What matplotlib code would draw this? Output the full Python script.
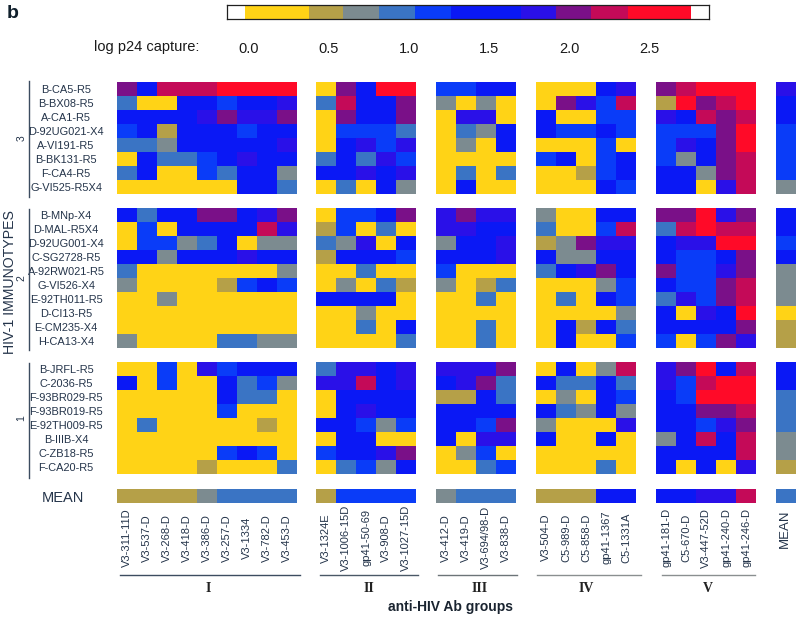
import matplotlib
matplotlib.use("Agg")
import matplotlib.pyplot as plt
from matplotlib.colors import ListedColormap
from matplotlib.lines import Line2D
import numpy as np

plt.rcParams['font.family'] = ['Liberation Sans', 'DejaVu Sans']

# capture classes, lowest to highest, one letter per cell in the tables below
LEVELS = "YOGSBDIPCR"
LEVEL_COLORS = ["#FFD316", "#B5A048", "#7C8B90", "#3A74C4", "#0A3CF8",
                "#0A18F5", "#2A10E8", "#7A1088", "#C40A58", "#FF0A28"]
LEVEL_EDGES = [-0.025, 0.375, 0.59, 0.81, 1.04, 1.26, 1.70, 1.92, 2.14, 2.37, 2.76]
SCALE_TICKS = [0.0, 0.5, 1.0, 1.5, 2.0, 2.5]

VIRUSES_3 = ["B-CA5-R5", "B-BX08-R5", "A-CA1-R5", "D-92UG021-X4",
             "A-VI191-R5", "B-BK131-R5", "F-CA4-R5", "G-VI525-R5X4"]
VIRUSES_2 = ["B-MNp-X4", "D-MAL-R5X4", "D-92UG001-X4", "C-SG2728-R5", "A-92RW021-R5",
             "G-VI526-X4", "E-92TH011-R5", "D-CI13-R5", "E-CM235-X4", "H-CA13-X4"]
VIRUSES_1 = ["B-JRFL-R5", "C-2036-R5", "F-93BR029-R5", "F-93BR019-R5",
             "E-92TH009-R5", "B-IIIB-X4", "C-ZB18-R5", "F-CA20-R5"]

ABS_I = ["V3-311-11D", "V3-537-D", "V3-268-D", "V3-418-D", "V3-386-D",
         "V3-257-D", "V3-1334", "V3-782-D", "V3-453-D"]
ABS_II = ["V3-1324E", "V3-1006-15D", "gp41-50-69", "V3-908-D", "V3-1027-15D"]
ABS_III = ["V3-412-D", "V3-419-D", "V3-694/98-D", "V3-838-D"]
ABS_IV = ["V3-504-D", "C5-989-D", "C5-858-D", "gp41-1367", "C5-1331A"]
ABS_V = ["gp41-181-D", "C5-670-D", "V3-447-52D", "gp41-240-D", "gp41-246-D"]

CELLS_I = [
    ["PDCCCRRRR", "SYYDDBDDI", "DDDDIPIIP", "BDODDDBDD",
     "SSGDDDDDI", "YDSSBDIDD", "SDYYBSDDG", "YYYYYYDDS"],
    ["DSDDPPDIP", "YBYDDDDCI", "YBBGSDYGG", "DDGDDDIDD", "SYYYYYYYG",
     "GYYYYOBDB", "YYGYYYYYY", "YYYYYYYYY", "YYYYYYYYY", "GYYYYSSGG"],
    ["YYBYIBDDD", "DYBYYDSBG", "YYYYYDSSY", "YYYYYBYYY",
     "YSYYYYYOY", "YYYYYYYYY", "YYYYYBDBY", "YYYYOYYYS"],
]
CELLS_II = [
    ["YPDRR", "SCDDP", "YPDDP", "YBBBS", "YDIBI", "SDSIB", "DDIDI", "YSYDG"],
    ["YBBDP", "OBYSY", "SGIYD", "ODDDB", "YYSYY",
     "YGYSO", "DDDDY", "YYGYY", "YYSYD", "YYYYS"],
    ["SIIDI", "IICDI", "YDDDD", "YDIDD", "DDBGB", "YDDYY", "BDDIP", "YSBGD"],
]
CELLS_III = [
    ["BBDD", "GYGY", "YIIY", "YSGD", "YGYD", "YYYY", "YSYS", "YDYY"],
    ["IPII", "IIDD", "GDDI", "DDDI", "BYYY", "GYOS", "YYSY", "YYYY", "YYSY", "YYSY"],
    ["IIIP", "DIPS", "OODS", "DDDD", "DDBP", "DYII", "YGBY", "YYSB"],
]
CELLS_IV = [
    ["YYYDI", "YPIBC", "DYYBB", "DBBDB", "YYYBY", "BDYBD", "YYOBD", "YYYDB"],
    ["GYYDD", "SYYBC", "OGPII", "DGGDD", "SDIPD",
     "YYYGB", "YSYDB", "YYYYG", "YDODS", "YDYYB"],
    ["YDYGC", "DSSDS", "YGYDB", "DSGDG", "GYYYI", "DYYDY", "YYYYY", "YYYSY"],
]
CELLS_V = [
    ["PCRRR", "ORPCR", "IDCPC", "BBBPR", "BIDPR", "BGDPC", "DDGPC", "DDYIC"],
    ["PPRIP", "SCRCC", "DIIRR", "DBBDP", "PBBIP",
     "DBBPC", "SIBPC", "DYIDR", "DDDDP", "BYBPI"],
    ["IPRDC", "IBCRR", "DBRRR", "DDPPC", "DDBIP", "GDCDC", "DDDDC", "DYDYI"],
]
CELLS_MEAN = [
    ["I", "D", "D", "B", "B", "B", "B", "G"],
    ["D", "D", "B", "D", "G", "G", "G", "Y", "O", "O"],
    ["D", "D", "S", "S", "S", "G", "G", "O"],
]
MEAN_I = "OOOOGSSSS"
MEAN_II = "OBBBB"
MEAN_III = "GSSS"
MEAN_IV = "OOODD"
MEAN_V = "DDIIC"
MEAN_MEAN = "S"

W, H = 800, 618
NAVY = "#24344a"
cmap = ListedColormap(LEVEL_COLORS)


def add_axes_px(fig, left, top, right, bottom):
    """Axes placed by pixel box, y counted from the top of the picture."""
    return fig.add_axes([left / W, 1 - bottom / H, (right - left) / W, (bottom - top) / H])


def draw_cells(ax, rows):
    codes = np.array([[LEVELS.index(c) for c in row] for row in rows])
    ax.imshow(codes, cmap=cmap, vmin=-0.5, vmax=len(LEVELS) - 0.5,
              aspect="auto", interpolation="nearest")
    ax.set_xticks([])
    ax.set_yticks([])
    for spine in ax.spines.values():
        spine.set_visible(False)


def fig_line(fig, x0, x1, y0, y1, color):
    fig.add_artist(Line2D([x0 / W, x1 / W], [1 - y0 / H, 1 - y1 / H],
                          transform=fig.transFigure, color=color, lw=1.0))


fig = plt.figure(figsize=(W / 100, H / 100), dpi=100)

# colour scale on top
cax = add_axes_px(fig, 227, 4.5, 709, 18.5)
cax.pcolormesh(LEVEL_EDGES, [0, 1], np.arange(len(LEVELS)).reshape(1, -1),
               cmap=cmap, vmin=-0.5, vmax=len(LEVELS) - 0.5)
cax.set_xlim(-0.1375, 2.875)
cax.set_yticks([])
cax.set_xticks(SCALE_TICKS)
cax.set_xticklabels(["%.1f" % t for t in SCALE_TICKS])
cax.tick_params(axis="x", length=0, pad=17, labelsize=10.5, labelcolor="#1a1a1a")
for spine in cax.spines.values():
    spine.set_linewidth(0.9)
    spine.set_color("#202020")

fig.text(7 / W, 1 - 14 / H, "b", fontsize=14, fontweight="bold", color="#10202c",
         ha="left", va="center")
fig.text(147 / W, 1 - 47 / H, "log p24 capture:", fontsize=10.5, color="#1a1a1a",
         ha="center", va="center")

# heat map panels, one column per antibody group
row_boxes = [(82.3, 194.3), (208.3, 348.3), (362.3, 474.3)]
bracket_boxes = [(81, 197), (209, 350), (363, 478)]
mean_box = (489, 503)
viruses = [VIRUSES_3, VIRUSES_2, VIRUSES_1]
block_names = ["3", "2", "1"]
groups = [
    (116.7, 296.7, CELLS_I, MEAN_I, ABS_I),
    (316, 416, CELLS_II, MEAN_II, ABS_II),
    (436, 516, CELLS_III, MEAN_III, ABS_III),
    (536, 636, CELLS_IV, MEAN_IV, ABS_IV),
    (656, 756, CELLS_V, MEAN_V, ABS_V),
    (775.7, 795, CELLS_MEAN, MEAN_MEAN, ["MEAN"]),
]

for g, (left, right, cells, mean_row, abs_names) in enumerate(groups):
    for b, (top, bottom) in enumerate(row_boxes):
        ax = add_axes_px(fig, left, top, right, bottom)
        draw_cells(ax, cells[b])
        if g == 0:
            ax.set_yticks(range(len(viruses[b])))
            ax.set_yticklabels(viruses[b], ha="center", fontsize=7.9, color=NAVY)
            ax.tick_params(axis="y", length=0, pad=36.5)
            ax.set_ylabel(block_names[b], fontsize=7.5, color=NAVY)
            ax.yaxis.set_label_coords(-0.5, 0.5)
            fig_line(fig, 29, 29, bracket_boxes[b][0], bracket_boxes[b][1], "#3c4c60")
    ax = add_axes_px(fig, left, mean_box[0], right, mean_box[1])
    draw_cells(ax, [mean_row])
    ax.set_xticks(range(len(abs_names)))
    ax.set_xticklabels(abs_names, rotation=90, va="center", ha="center",
                       fontsize=8 if g < 5 else 9.5, color=NAVY)
    ax.tick_params(axis="x", length=0, pad=25 if g < 5 else 18.7)
    if g == 0:
        ax.set_yticks([0])
        ax.set_yticklabels(["MEAN"], ha="center", fontsize=10.5, color=NAVY)
        ax.tick_params(axis="y", length=0, pad=38.5)

fig.text(10 / W, 1 - 282 / H, "HIV-1 IMMUNOTYPES", rotation=90, fontsize=10.2,
         color=NAVY, ha="center", va="center")

# group rules and roman numerals under the antibody names
rules = [(120, 300, "#3c4c60"), (320, 418, "#4a5866"), (438, 517, "#6c7478"),
         (537, 641, "#8a8f90"), (662, 755, "#8a8f90")]
for x0, x1, color in rules:
    fig_line(fig, x0, x1, 575, 575, color)

numerals = ["I", "II", "III", "IV", "V"]
numeral_x = [208, 369, 480, 586, 708]
for name, x in zip(numerals, numeral_x):
    fig.text(x / W, 1 - 589 / H, name, family=["Liberation Serif", "DejaVu Serif"],
             fontweight="bold", fontsize=10, color="#222222", ha="center", va="center")

fig.text(451 / W, 1 - 607 / H, "anti-HIV Ab groups", fontsize=10, fontweight="bold",
         color="#1a2430", ha="center", va="center")

fig.savefig("out.png", dpi=100)
